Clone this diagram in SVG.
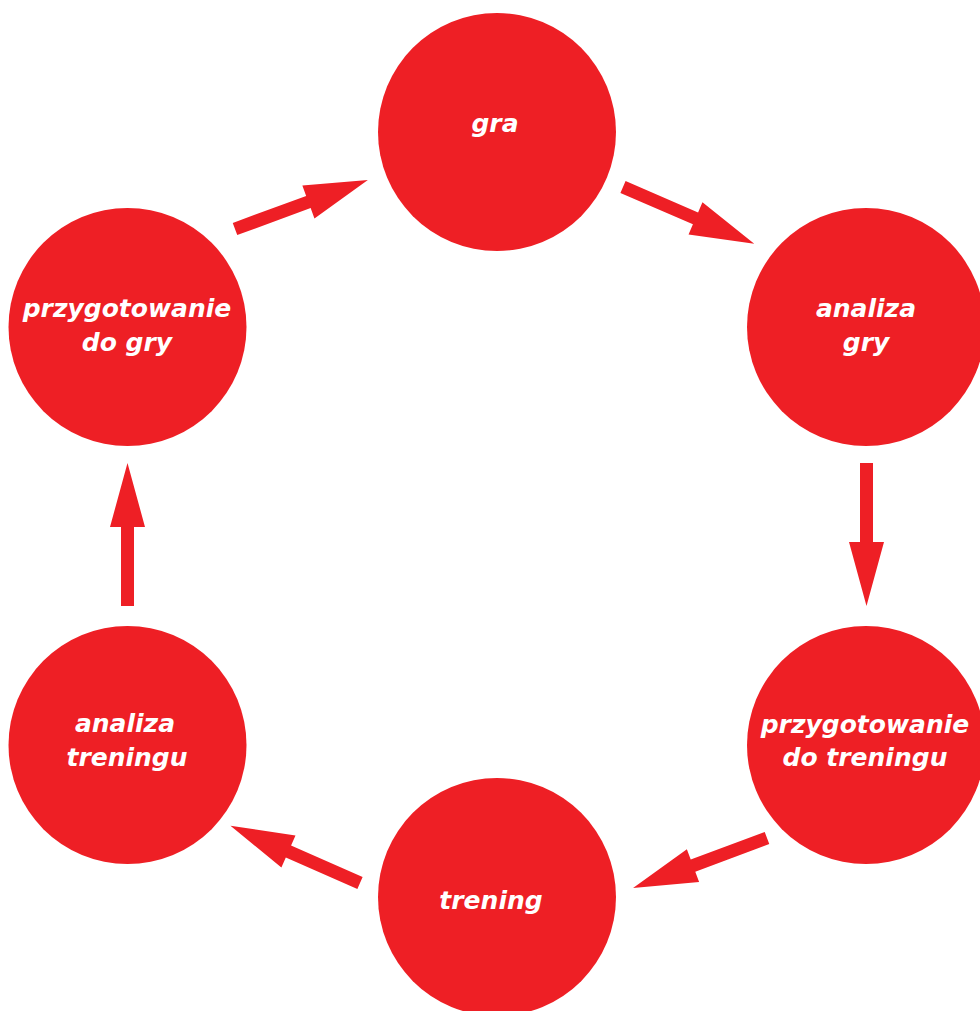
<svg xmlns="http://www.w3.org/2000/svg" xmlns:xlink="http://www.w3.org/1999/xlink" width="980" height="1011" viewBox="0 0 980 1011">
<style>
.node{fill:#EE1F25;}
.lbl{fill:#ffffff;font-family:"DejaVu Sans",sans-serif;font-weight:bold;font-style:italic;font-size:25px;text-anchor:middle;}
.arr{fill:#EE1F25;}
</style>
<defs>
<polygon id="arrow" points="0,-6.5 79,-6.5 79,-17.5 143,0 79,17.5 79,6.5 0,6.5"/>
</defs>
<rect width="980" height="1011" fill="#ffffff"/>
<g id="connectors" class="arr">
<use xlink:href="#arrow" transform="translate(235,229) rotate(-20.2) scale(0.99,1)"/>
<use xlink:href="#arrow" transform="translate(623,187) rotate(23.4)"/>
<use xlink:href="#arrow" transform="translate(866.5,463) rotate(90)"/>
<use xlink:href="#arrow" transform="translate(767,838) rotate(159.5)"/>
<use xlink:href="#arrow" transform="translate(360,883) rotate(203.8) scale(0.99,1)"/>
<use xlink:href="#arrow" transform="translate(127.5,606) rotate(-90)"/>
</g>
<g id="gra">
<circle class="node" cx="497" cy="132" r="119"/>
<text class="lbl" x="495" y="132">gra</text>
</g>
<g id="analiza-gry">
<circle class="node" cx="866" cy="327" r="119"/>
<text class="lbl" x="866" y="317">analiza</text>
<text class="lbl" x="866" y="351">gry</text>
</g>
<g id="przygotowanie-do-treningu">
<circle class="node" cx="866" cy="745" r="119"/>
<text class="lbl" x="865" y="733">przygotowanie</text>
<text class="lbl" x="865" y="766">do treningu</text>
</g>
<g id="trening">
<circle class="node" cx="497" cy="897" r="119"/>
<text class="lbl" x="491" y="909">trening</text>
</g>
<g id="analiza-treningu">
<circle class="node" cx="127.5" cy="745" r="119"/>
<text class="lbl" x="125" y="732">analiza</text>
<text class="lbl" x="127" y="766">treningu</text>
</g>
<g id="przygotowanie-do-gry">
<circle class="node" cx="127.5" cy="327" r="119"/>
<text class="lbl" x="127" y="317">przygotowanie</text>
<text class="lbl" x="127" y="351">do gry</text>
</g>
</svg>
